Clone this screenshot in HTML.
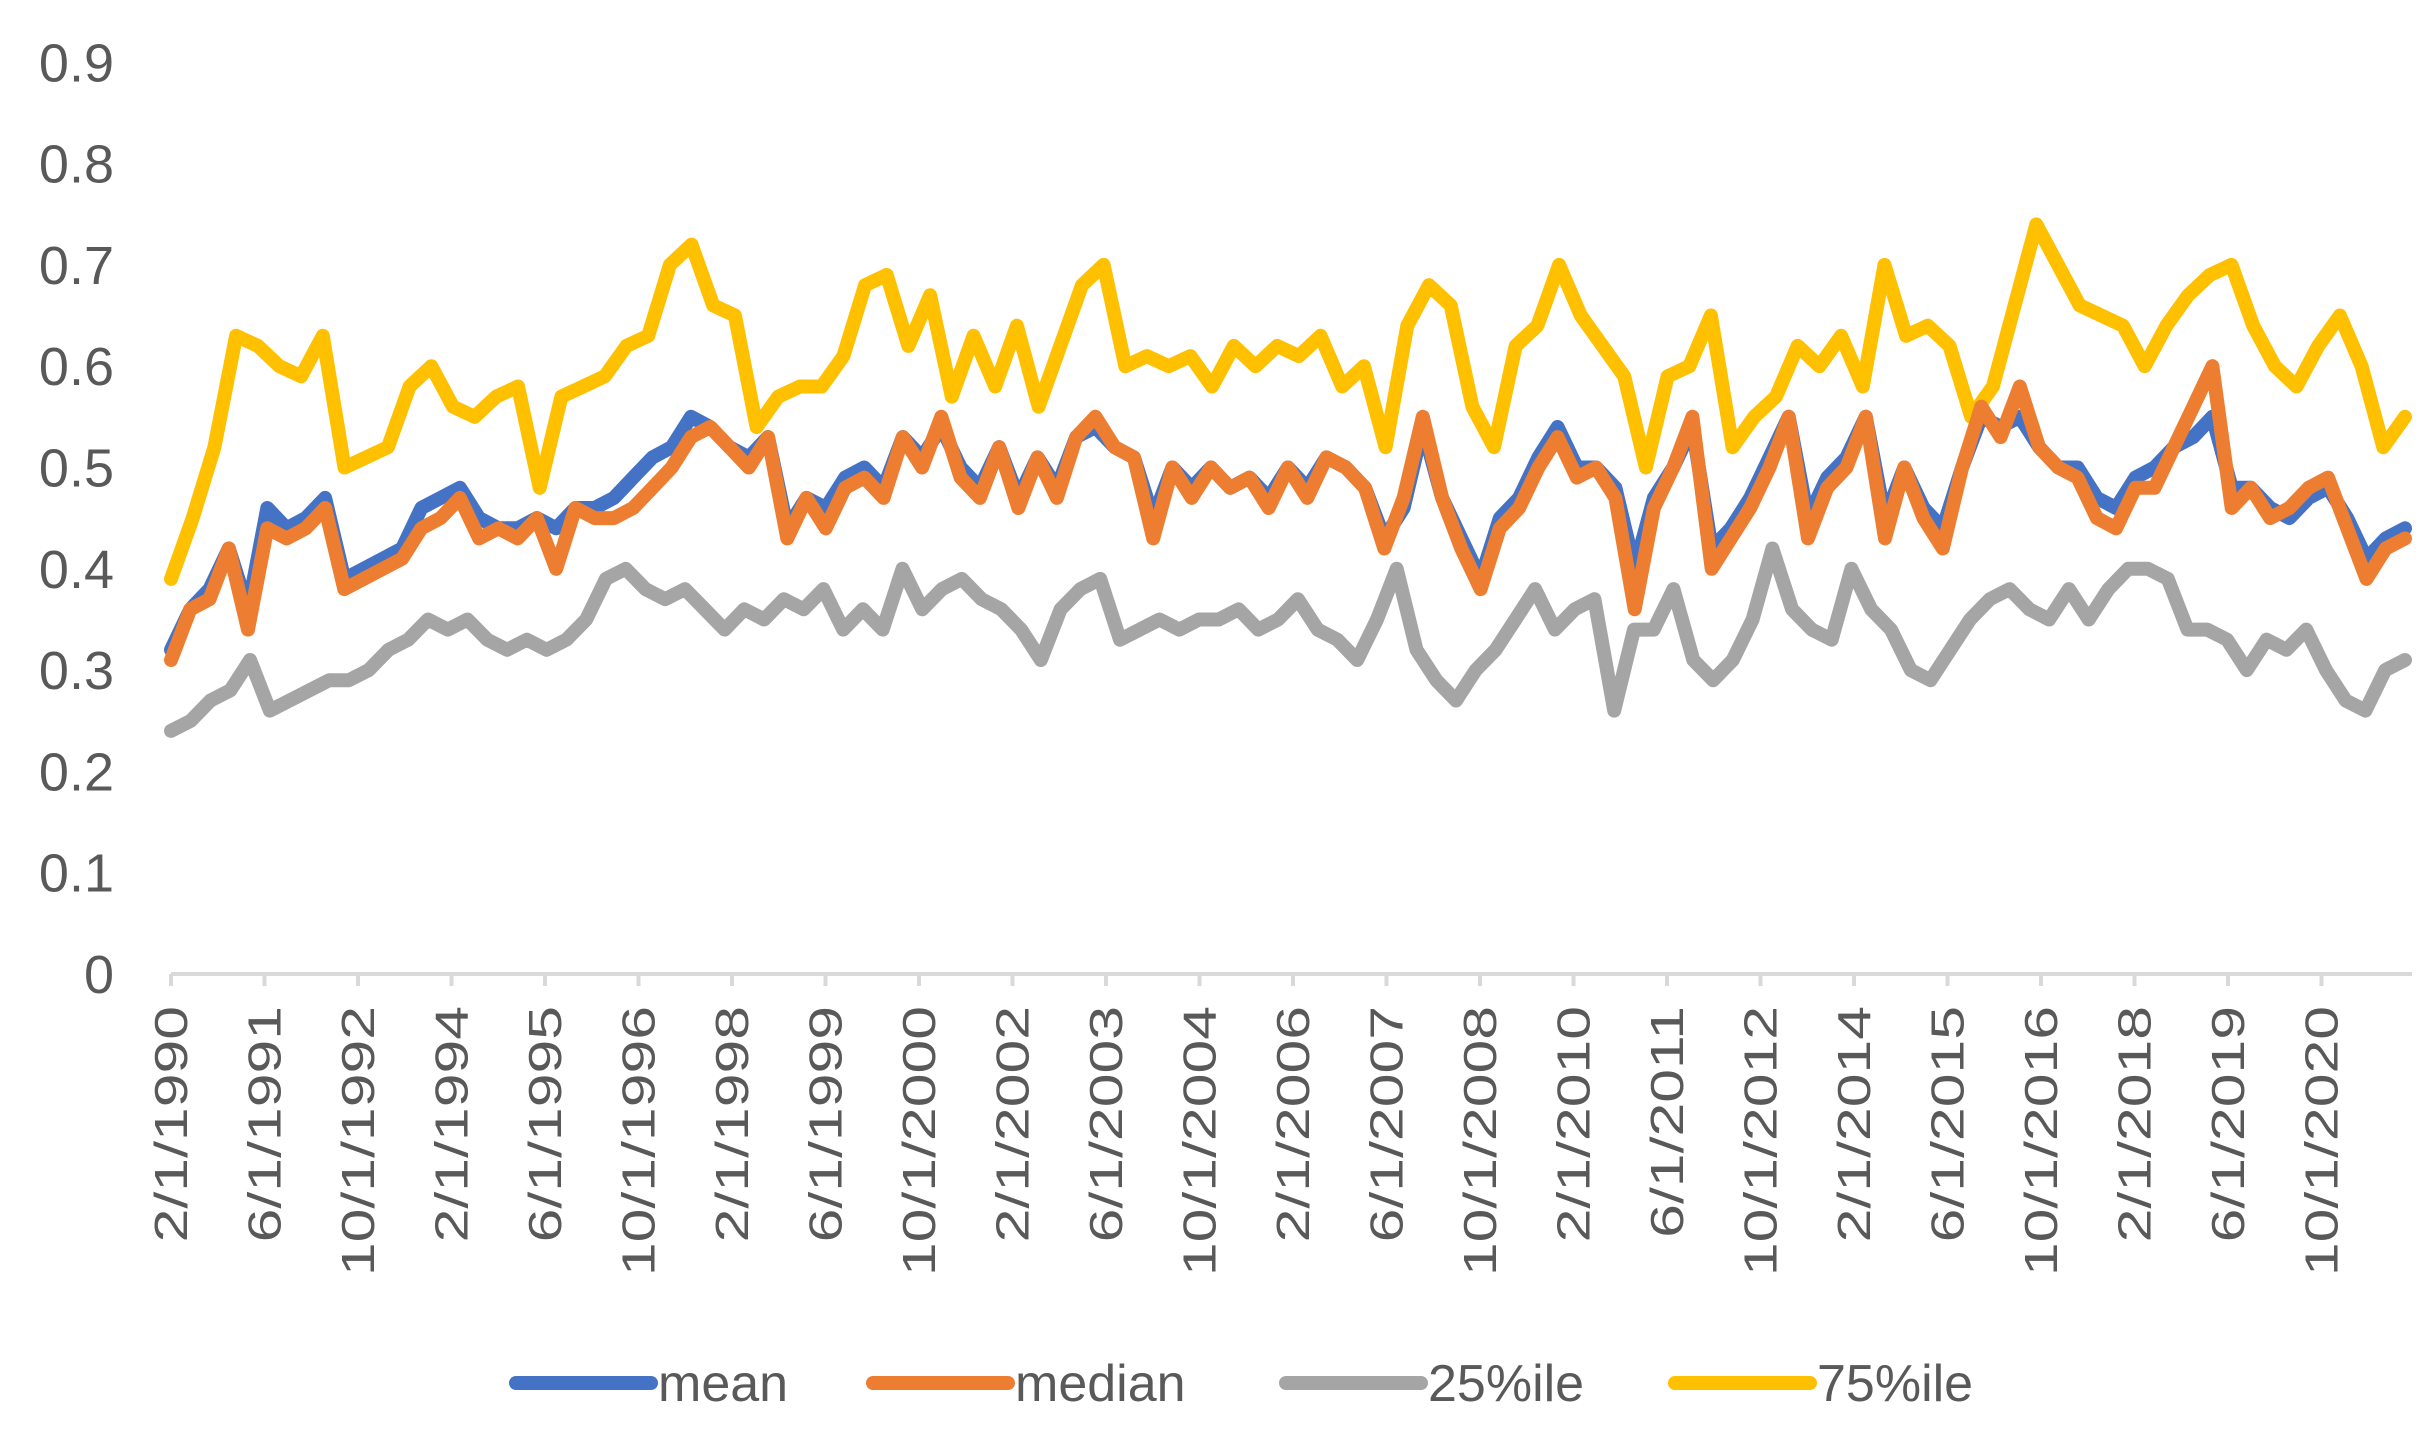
<!DOCTYPE html>
<html><head><meta charset="utf-8"><style>
html,body{margin:0;padding:0;background:#fff;}
svg{display:block;font-family:"Liberation Sans",sans-serif;}
</style></head><body>
<svg id="chart" width="2431" height="1436" viewBox="0 0 2431 1436" xmlns="http://www.w3.org/2000/svg">
<g id="yaxis"></g>
<g id="xaxis"></g>
<g id="series"></g>
<g id="legend"></g>
</svg>
<script>
const yTicks = [0,0.1,0.2,0.3,0.4,0.5,0.6,0.7,0.8,0.9];
const xTickLabels = ["2/1/1990","6/1/1991","10/1/1992","2/1/1994","6/1/1995","10/1/1996","2/1/1998","6/1/1999","10/1/2000","2/1/2002","6/1/2003","10/1/2004","2/1/2006","6/1/2007","10/1/2008","2/1/2010","6/1/2011","10/1/2012","2/1/2014","6/1/2015","10/1/2016","2/1/2018","6/1/2019","10/1/2020"];
const seriesNames = ["mean","median","25%ile","75%ile"];
const p75 = [0.39,0.45,0.52,0.63,0.62,0.60,0.59,0.63,0.50,0.51,0.52,0.58,0.60,0.56,0.55,0.57,0.58,0.48,0.57,0.58,0.59,0.62,0.63,0.70,0.72,0.66,0.65,0.54,0.57,0.58,0.58,0.61,0.68,0.69,0.62,0.67,0.57,0.63,0.58,0.64,0.56,0.62,0.68,0.70,0.60,0.61,0.60,0.61,0.58,0.62,0.60,0.62,0.61,0.63,0.58,0.60,0.52,0.64,0.68,0.66,0.56,0.52,0.62,0.64,0.70,0.65,0.62,0.59,0.50,0.59,0.60,0.65,0.52,0.55,0.57,0.62,0.60,0.63,0.58,0.70,0.63,0.64,0.62,0.55,0.58,0.66,0.74,0.70,0.66,0.65,0.64,0.60,0.64,0.67,0.69,0.70,0.64,0.60,0.58,0.62,0.65,0.60,0.52,0.55];
const median = [0.31,0.36,0.37,0.42,0.34,0.44,0.43,0.44,0.46,0.38,0.39,0.40,0.41,0.44,0.45,0.47,0.43,0.44,0.43,0.45,0.40,0.46,0.45,0.45,0.46,0.48,0.50,0.53,0.54,0.52,0.50,0.53,0.43,0.47,0.44,0.48,0.49,0.47,0.53,0.50,0.55,0.49,0.47,0.52,0.46,0.51,0.47,0.53,0.55,0.52,0.51,0.43,0.50,0.47,0.50,0.48,0.49,0.46,0.50,0.47,0.51,0.50,0.48,0.42,0.47,0.55,0.47,0.42,0.38,0.44,0.46,0.50,0.53,0.49,0.50,0.47,0.36,0.46,0.50,0.55,0.40,0.43,0.46,0.50,0.55,0.43,0.48,0.50,0.55,0.43,0.50,0.45,0.42,0.50,0.56,0.53,0.58,0.52,0.50,0.49,0.45,0.44,0.48,0.48,0.52,0.56,0.60,0.46,0.48,0.45,0.46,0.48,0.49,0.44,0.39,0.42,0.43];
const mean = [0.32,0.36,0.38,0.42,0.36,0.46,0.44,0.45,0.47,0.39,0.40,0.41,0.42,0.46,0.47,0.48,0.45,0.44,0.44,0.45,0.44,0.46,0.46,0.47,0.49,0.51,0.52,0.55,0.54,0.52,0.51,0.53,0.44,0.47,0.46,0.49,0.50,0.48,0.53,0.51,0.54,0.50,0.48,0.52,0.47,0.51,0.48,0.53,0.54,0.52,0.51,0.45,0.50,0.48,0.50,0.48,0.49,0.47,0.50,0.48,0.51,0.50,0.48,0.43,0.46,0.54,0.47,0.43,0.39,0.45,0.47,0.51,0.54,0.50,0.50,0.48,0.40,0.47,0.50,0.54,0.42,0.44,0.47,0.51,0.55,0.45,0.49,0.51,0.55,0.45,0.50,0.46,0.44,0.50,0.55,0.54,0.55,0.52,0.50,0.50,0.47,0.46,0.49,0.50,0.52,0.53,0.55,0.48,0.48,0.46,0.45,0.47,0.48,0.45,0.41,0.43,0.44];
const p25 = [0.24,0.25,0.27,0.28,0.31,0.26,0.27,0.28,0.29,0.29,0.30,0.32,0.33,0.35,0.34,0.35,0.33,0.32,0.33,0.32,0.33,0.35,0.39,0.40,0.38,0.37,0.38,0.36,0.34,0.36,0.35,0.37,0.36,0.38,0.34,0.36,0.34,0.40,0.36,0.38,0.39,0.37,0.36,0.34,0.31,0.36,0.38,0.39,0.33,0.34,0.35,0.34,0.35,0.35,0.36,0.34,0.35,0.37,0.34,0.33,0.31,0.35,0.40,0.32,0.29,0.27,0.30,0.32,0.35,0.38,0.34,0.36,0.37,0.26,0.34,0.34,0.38,0.31,0.29,0.31,0.35,0.42,0.36,0.34,0.33,0.40,0.36,0.34,0.30,0.29,0.32,0.35,0.37,0.38,0.36,0.35,0.38,0.35,0.38,0.40,0.40,0.39,0.34,0.34,0.33,0.30,0.33,0.32,0.34,0.30,0.27,0.26,0.30,0.31];

const NS = "http://www.w3.org/2000/svg";
const X0 = 171, TICK_STEP = 93.5, X_END = 2412, SERIES_END = 2405;
const Y0 = 974, YUNIT = 1013;
function yScale(v){ return Y0 - v*YUNIT; }
function xTick(i){ return X0 + i*TICK_STEP; }
function xSeries(i,n){ return X0 + (SERIES_END - X0)*i/(n-1); }
function mk(tag, attrs, parent){ const e=document.createElementNS(NS,tag); for(const k in attrs) e.setAttribute(k,attrs[k]); parent.appendChild(e); return e; }

const yG = document.getElementById('yaxis');
yTicks.forEach(v=>{
  const t = mk('text',{x:114,y:yScale(v)+19,'text-anchor':'end','font-size':54,fill:'#595959'},yG);
  
  
  t.textContent = String(v);
});

const xG = document.getElementById('xaxis');
const axisLine = mk('line',{x1:X0,y1:Y0,x2:X_END,y2:Y0,stroke:'#d9d9d9','stroke-width':4},xG);


xTickLabels.forEach((lab,i)=>{
  const x = xTick(i);
  const tk = mk('line',{x1:x,y1:Y0,x2:x,y2:Y0+12,stroke:'#d9d9d9','stroke-width':4},xG);
  
  
  const t = mk('text',{transform:`translate(${x+16},${Y0+32}) rotate(-90) scale(1.32,1)`,'text-anchor':'end','font-size':46,fill:'#595959'},xG);
  
  
  t.textContent = lab;
});

const sG = document.getElementById('series');
const colors = {"mean":"#4472C4","median":"#ED7D31","25%ile":"#A5A5A5","75%ile":"#FFC000"};
const drawOrder = [["75%ile",p75],["25%ile",p25],["mean",mean],["median",median]];
drawOrder.forEach(([name,arr])=>{
  const pts = arr.map((v,i)=>xSeries(i,arr.length).toFixed(1)+','+yScale(v).toFixed(1)).join(' ');
  const pl = mk('polyline',{points:pts,fill:'none',stroke:colors[name],'stroke-width':14,'stroke-linejoin':'round','stroke-linecap':'round'},sG);
  
  
});

const lG = document.getElementById('legend');
const legendX = [511,868,1281,1670];
seriesNames.forEach((name,i)=>{
  const g = mk('g',{},lG);
  
  
  mk('line',{x1:legendX[i]+5,y1:1383,x2:legendX[i]+140,y2:1383,stroke:colors[name],'stroke-width':14,'stroke-linecap':'round'},g);
  const t = mk('text',{x:legendX[i]+147,y:1401,'font-size':52,fill:'#595959'},g);
  t.textContent = name;
});
</script>
</body></html>
